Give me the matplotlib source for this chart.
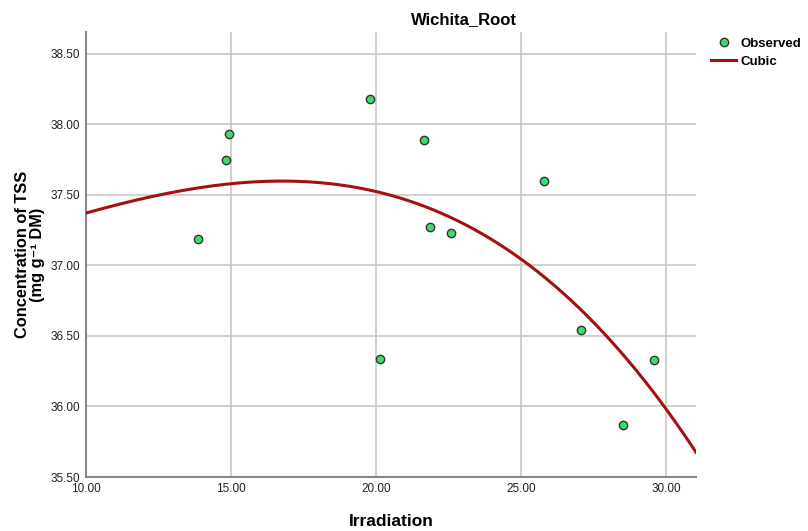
import matplotlib
matplotlib.use("Agg")
import matplotlib.pyplot as plt
import numpy as np
from matplotlib.lines import Line2D

plt.rcParams['font.family'] = ['Liberation Sans', 'DejaVu Sans']

# observed points
irradiation = [13.86, 14.83, 14.93, 19.79, 20.14, 21.66, 21.86, 22.59, 25.79, 27.07, 28.52, 29.59]
tss = [37.19, 37.75, 37.93, 38.18, 36.34, 37.89, 37.27, 37.23, 37.60, 36.54, 35.87, 36.33]

# cubic curve
curve_x = [10.0, 15.0, 17.0, 20.0, 25.0, 26.34, 28.0, 30.0, 31.03]
curve_y = [37.37, 37.583, 37.60, 37.53, 37.0, 36.85, 36.5, 36.0, 35.655]

xticks = [10.0, 15.0, 20.0, 25.0, 30.0]
yticks = [35.5, 36.0, 36.5, 37.0, 37.5, 38.0, 38.5]

W, H = 808, 531
fig = plt.figure(figsize=(W / 100, H / 100), dpi=100)
ax = fig.add_axes([86 / W, 1 - 477 / H, (696 - 86) / W, (477 - 32) / H])

coef = np.polyfit(curve_x, curve_y, 3)
xs = np.linspace(10, 31.03, 300)
ax.plot(xs, np.polyval(coef, xs), color='#a50f0f', lw=2.2, zorder=3)

ax.scatter(irradiation, tss, s=36, c='#3ddc6e', edgecolors='#333333', linewidths=1, zorder=4)

ax.set_xlim(10, 31.03)
ax.set_ylim(35.5, 38.656)
ax.set_xticks(xticks)
ax.set_yticks(yticks)
ax.set_xticklabels([f"{v:.2f}" for v in xticks])
ax.set_yticklabels([f"{v:.2f}" for v in yticks])
ax.tick_params(length=0, labelsize=8.5, colors='#222222', pad=4)
ax.grid(True, color='#c8c8c8', lw=1.2)
ax.set_axisbelow(True)
for s in ['top', 'right']:
  ax.spines[s].set_visible(False)
for s in ['left', 'bottom']:
  ax.spines[s].set_color('#888888')
  ax.spines[s].set_linewidth(1.5)

fig.text(464 / W, 1 - 20 / H, "Wichita_Root", fontsize=12, fontweight='bold', ha='center', va='center')
ax.set_xlabel("Irradiation", fontsize=12.5, fontweight='bold', labelpad=14)
ax.set_ylabel("Concentration of TSS\n(mg g\u207b\u00b9 DM)", fontsize=11.8, fontweight='bold',
              labelpad=4, linespacing=1.0)

handles = [
  Line2D([], [], marker='o', ls='none', markersize=6, markerfacecolor='#3ddc6e', markeredgecolor='#333333'),
  Line2D([], [], color='#a50f0f', lw=2.2),
]
fig.legend(handles, ["Observed", "Cubic"], loc='upper left', bbox_to_anchor=(706 / W, 1 - 32 / H),
           frameon=False, prop={'weight': 'bold', 'size': 9.5}, handlelength=1.9, handletextpad=0.3,
           labelspacing=0.45, borderaxespad=0)

fig.savefig("out.png", dpi=100)
